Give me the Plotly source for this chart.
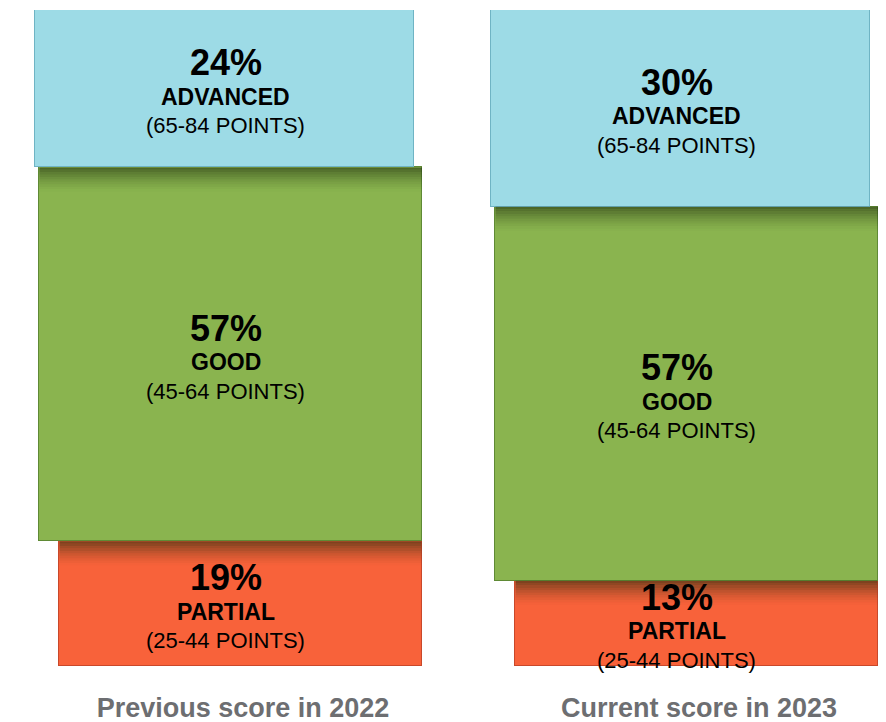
import plotly.graph_objects as go

# ---- data ----
columns = ["Previous score in 2022", "Current score in 2023"]
levels = ["PARTIAL", "GOOD", "ADVANCED"]            # bottom -> top
ranges = ["(25-44 POINTS)", "(45-64 POINTS)", "(65-84 POINTS)"]
partial = [19, 13]
good = [57, 57]
advanced = [24, 30]

# ---- style ----
colors = {"PARTIAL": "#f8623a", "GOOD": "#8ab44f", "ADVANCED": "#9ddbe6"}
edge = {"PARTIAL": "#c9482a", "GOOD": "#5f8a35", "ADVANCED": "#6fb4c4"}
note_offset = {"PARTIAL": -0.374, "GOOD": -0.418, "ADVANCED": -0.428}
note_width = {"PARTIAL": 0.794, "GOOD": 0.839, "ADVANCED": 0.832}
FONT = "Liberation Sans, Arial, sans-serif"
xpos = [0, 1]
text_xshift = [-4, -9]

series = [partial, good, advanced]

fig = go.Figure()
for lvl, vals in zip(levels, series):
    fig.add_trace(go.Bar(
        x=xpos, y=vals, name=lvl, width=note_width[lvl], offset=note_offset[lvl],
        marker=dict(color=colors[lvl], line=dict(color=edge[lvl], width=1)),
        hoverinfo="skip", showlegend=False,
    ))

annotations = []
shapes = []
px_unit = 100 / 656.0  # y units per pixel
for i, x in enumerate(xpos):
    base = 0
    for lvl, rng, vals in zip(levels, ranges, series):
        v = vals[i]
        mid = base + v / 2
        xs = text_xshift[i]
        annotations += [
            dict(x=x, y=mid, text=f"<b>{v}%</b>", yshift=26, xshift=xs, showarrow=False,
                 font=dict(family=FONT, size=36, color="#000")),
            dict(x=x, y=mid, text=f"<b>{lvl}</b>", yshift=-8, xshift=xs, showarrow=False,
                 font=dict(family=FONT, size=23, color="#000")),
            dict(x=x, y=mid, text=rng, yshift=-37, xshift=xs, showarrow=False,
                 font=dict(family=FONT, size=22, color="#000")),
        ]
        top = base + v
        # soft shadow cast by the note above onto the top of this note
        if lvl != "ADVANCED":
            n = 10
            for k in range(n):
                shapes.append(dict(
                    type="rect", xref="x", yref="y",
                    x0=x + note_offset[lvl], x1=x + note_offset[lvl] + note_width[lvl],
                    y0=top - (k + 1) * 2.4 * px_unit, y1=top - k * 2.4 * px_unit,
                    fillcolor=f"rgba(25,40,10,{0.55 * (1 - k / n) ** 1.5:.3f})",
                    line=dict(width=0), layer="above",
                ))
        base = top

# page body adds an 8px margin, so the figure is 8px smaller than the window
fig.update_layout(
    width=878, height=714,
    margin=dict(l=0, r=0, t=2, b=56),
    barmode="stack", bargap=0,
    plot_bgcolor="white", paper_bgcolor="white",
    annotations=annotations, shapes=shapes,
    xaxis=dict(range=[-0.4868, 1.4386], tickvals=xpos,
               ticktext=[f"<b>{c}</b>" for c in columns],
               tickfont=dict(family=FONT, size=27, color="#6d6e71"),
               showgrid=False, zeroline=False, showline=False, ticks="",
               ticklabelstandoff=23, ticklabelshift=13, automargin=False,
               fixedrange=True),
    yaxis=dict(range=[0, 100], visible=False, fixedrange=True),
)

fig.write_html("out.html")
